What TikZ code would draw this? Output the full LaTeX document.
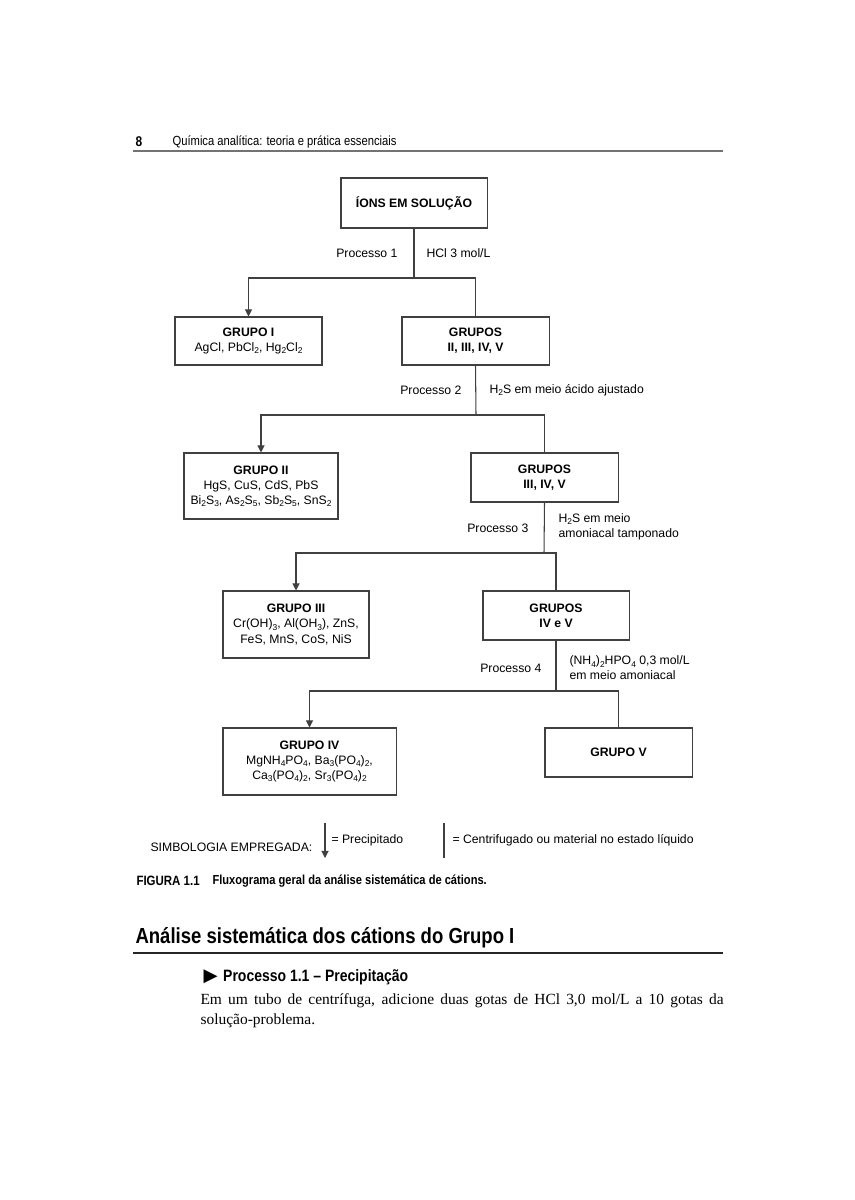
\documentclass[tikz,border=0pt]{standalone}
\usepackage{fontspec}
\setmainfont{Liberation Sans}
\newfontfamily\condfont[FakeStretch=0.85]{Liberation Sans}
\newfontfamily\bodyfont{Liberation Serif}
\newfontfamily\symbfont{DejaVu Sans}
\usetikzlibrary{arrows.meta,positioning}
\newcommand{\sbs}[1]{\raisebox{-0.35ex}{\fontsize{6}{6}\selectfont #1}}

\begin{document}
\begin{tikzpicture}[x=0.025cm, y=-0.025cm, line width=0.75pt, draw=black!75,
    >={Triangle[length=5pt,width=5pt]},
    every node/.style={font=\fontsize{8.7}{10.7}\selectfont, text=black},
    grupo/.style={draw=black!75, rectangle, align=center, minimum width=3.675cm, minimum height=1.225cm},
    proc/.style={inner sep=0pt, anchor=east},
    reag/.style={inner sep=0pt, anchor=west, align=left},
    cond/.style={inner sep=0pt, anchor=west}]

    % page
    \fill[white] (0,0) rectangle (854,1200);
    \useasboundingbox (0,0) rectangle (854,1200);

    % Header
    \node[cond, font=\condfont\bfseries\fontsize{10}{12}\selectfont] (pag) at (135,142) {8};
    \node[cond, font=\condfont\fontsize{9.4}{11}\selectfont] (titulo) at (172,142) {Química analítica: teoria e prática essenciais};
    \coordinate (hA) at (133,151);
    \coordinate (hB) at (723,151);
    \draw[black!55, line width=1.2pt] (hA) -- (hB);

    % Boxes
    \node[grupo, minimum width=3.65cm, minimum height=1.25cm] (ions) at (414,203) {\textbf{ÍONS EM SOLUÇÃO}};
    \node[grupo, minimum height=1.2cm] (g1) at (248.5,341) {\textbf{GRUPO I}\\AgCl, PbCl\sbs{2}, Hg\sbs{2}Cl\sbs{2}};
    \node[grupo, minimum height=1.2cm] (g2345) at (475.5,341) {\textbf{GRUPOS}\\\textbf{II, III, IV, V}};
    \node[grupo, minimum width=3.85cm, minimum height=1.65cm] (g2) at (261,486) {\textbf{GRUPO II}\\HgS, CuS, CdS, PbS\\Bi\sbs{2}S\sbs{3}, As\sbs{2}S\sbs{5}, Sb\sbs{2}S\sbs{5}, SnS\sbs{2}};
    \node[grupo] (g345) at (544.5,477.5) {\textbf{GRUPOS}\\\textbf{III, IV, V}};
    \node[grupo, minimum width=3.65cm, minimum height=1.675cm] (g3) at (296,624.5) {\textbf{GRUPO III}\\Cr(OH)\sbs{3}, Al(OH\sbs{3}), ZnS,\\FeS, MnS, CoS, NiS};
    \node[grupo, minimum width=3.65cm] (g45) at (556,615.5) {\textbf{GRUPOS}\\\textbf{IV e V}};
    \node[grupo, minimum width=4.325cm, minimum height=1.675cm] (g4) at (309.5,761.5) {\textbf{GRUPO IV}\\MgNH\sbs{4}PO\sbs{4}, Ba\sbs{3}(PO\sbs{4})\sbs{2},\\Ca\sbs{3}(PO\sbs{4})\sbs{2}, Sr\sbs{3}(PO\sbs{4})\sbs{2}};
    \node[grupo] (g5) at (618.5,752.5) {\textbf{GRUPO V}};

    % Junctions
    \coordinate (j1) at (414,278);
    \coordinate (j2) at (476,415);
    \coordinate (j3) at (544,553);
    \coordinate (j4) at (556,691);

    % Connectors
    \draw (ions.south) -- (j1);
    \draw[->] (j1) -| (g1.north);
    \draw (j1) -| (g2345.north);
    \draw (g2345.south) -- (j2);
    \draw[->] (j2) -| (g2.north);
    \draw (j2) -| (g345.north);
    \draw (g345.south) -- (j3);
    \draw[->] (j3) -| (g3.north);
    \draw (j3) -| (g45.north);
    \draw (g45.south) -- (j4);
    \draw[->] (j4) -| (g4.north);
    \draw (j4) -| (g5.north);

    % Process labels
    \node[proc] (p1) at (398,253) {Processo 1};
    \node[reag] (r1) at (426,253) {HCl 3 mol/L};
    \node[proc] (p2) at (462,390) {Processo 2};
    \node[reag] (r2) at (489,390) {H\sbs{2}S em meio ácido ajustado};
    \node[proc] (p3) at (529,528) {Processo 3};
    \node[reag] (r3) at (558,527) {H\sbs{2}S em meio\\amoniacal tamponado};
    \node[proc] (p4) at (542,668) {Processo 4};
    \node[reag] (r4) at (569,668) {(NH\sbs{4})\sbs{2}HPO\sbs{4} 0,3 mol/L\\em meio amoniacal};

    % Legend
    \node[cond] (simb) at (150,847) {SIMBOLOGIA EMPREGADA:};
    \coordinate (lgA) at (325,823);
    \coordinate (lgB) at (325,858);
    \draw[->] (lgA) -- (lgB);
    \node[cond] (prec) at (331,840) {= Precipitado};
    \coordinate (lgC) at (444,823);
    \coordinate (lgD) at (444,858);
    \draw (lgC) -- (lgD);
    \node[cond] (centr) at (452,840) {= Centrifugado ou material no estado líquido};

    % Caption
    \node[cond, font=\condfont\bfseries\fontsize{9.6}{11}\selectfont] (fig) at (136,881) {FIGURA 1.1};
    \node[cond, font=\condfont\bfseries\fontsize{9.3}{11}\selectfont] (legenda) at (212,881) {Fluxograma geral da análise sistemática de cátions.};

    % Section
    \node[cond, font=\condfont\bfseries\fontsize{15.5}{18}\selectfont] (secao) at (135,938) {Análise sistemática dos cátions do Grupo I};
    \coordinate (sA) at (133,953);
    \coordinate (sB) at (723,953);
    \draw[black!85, line width=1.5pt] (sA) -- (sB);
    \node[cond, font=\condfont\bfseries\fontsize{11.7}{14}\selectfont] (proc11) at (203,977) {{\symbfont\fontsize{13}{14}\selectfont ▶}\hspace{4pt}Processo 1.1 – Precipitação};
    \node[anchor=north west, inner sep=0pt, text width=13.075cm, align=justify, font=\bodyfont\fontsize{11}{14.2}\selectfont] (texto) at (200,993) {Em um tubo de centrífuga, adicione duas gotas de HCl 3,0 mol/L a 10 gotas da solução-problema.};

\end{tikzpicture}
\end{document}
